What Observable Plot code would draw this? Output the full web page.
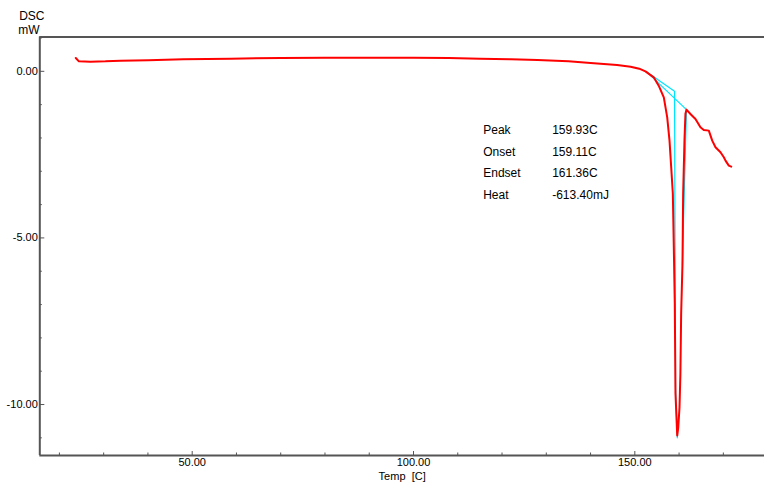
<!DOCTYPE html>
<html>
<head>
<meta charset="utf-8">
<script src="https://cdn.jsdelivr.net/npm/d3@7"></script>
<script src="https://cdn.jsdelivr.net/npm/@observablehq/plot@0.6"></script>
<style>
  html, body { margin: 0; padding: 0; background: #fff; }
  #chart svg { display: block; }
</style>
</head>
<body>
<div id="chart"></div>
<script>
// ---- data ----
const temps = [23.7, 24.4, 27.0, 30.4, 33.8, 40.1, 48.0, 58.7, 70, 80, 90, 100, 108, 115, 122, 128, 135, 140, 143, 146, 149.05, 151, 152.4,
  154.27, 155.4, 156.55, 157.32, 157.84, 158.22, 158.59, 158.81, 159.03, 159.19, 159.58,
  159.81, 160.1, 160.3, 160.47, 160.77, 160.92, 161.22, 161.44, 161.67,
  162.57, 163.70, 164.83, 165.58, 166.72, 167.49, 168.23, 169.36, 170.11, 170.49, 171.24, 171.78];
const dsc = [0.40, 0.30, 0.29, 0.30, 0.32, 0.33, 0.36, 0.38, 0.40, 0.41, 0.41, 0.41, 0.40, 0.38, 0.36, 0.34, 0.30, 0.25, 0.22, 0.19, 0.14, 0.08, 0.00,
  -0.18, -0.43, -0.78, -1.38, -2.08, -2.88, -3.67, -5.28, -6.97, -9.67, -10.93,
  -10.69, -10.09, -9.07, -7.27, -5.77, -3.67, -2.08, -1.27, -1.15,
  -1.28, -1.43, -1.68, -1.76, -1.78, -2.08, -2.28, -2.43, -2.58, -2.68, -2.83, -2.86];

// analysis construction lines (cyan)
const tangentT = [152.8, 158.97, 159.2, 159.6];
const tangentV = [-0.03, -0.60, -9.5, -11.0];
const baselineT = [152.8, 161.67, 160.75];
const baselineV = [-0.03, -1.15, -5.8];

// result table
const resultLabels = ["Peak", "Onset", "Endset", "Heat"];
const resultValues = ["159.93C", "159.11C", "161.36C", "-613.40mJ"];

// axes
const xDomain = [15.57, 179.3];
const yDomain = [-11.53, 1.03];
const xMajor = [50, 100, 150];
const xMinor = [20, 30, 40, 60, 70, 80, 90, 110, 120, 130, 140, 160, 170];
const yMajor = [0, -5, -10];
const yMinor = [1, -1, -2, -3, -4, -6, -7, -8, -9, -11];
const xLabel = "Temp  [C]";
const yLabelTop = "DSC";
const yLabelUnit = "mW";

// ---- layout ----
const W = 764, H = 484;
const mL = 39.3, mT = 36.5, mB = 29, mR = 0;
const frameW = W - mL - mR, frameH = H - mT - mB;
const axisColor = "#555";
const fmt = d => d.toFixed(2);

const curve = temps.map((t, i) => ({t, v: dsc[i]}));
const tangent = tangentT.map((t, i) => ({t, v: tangentV[i]}));
const baseline = baselineT.map((t, i) => ({t, v: baselineV[i]}));

const chart = Plot.plot({
  width: W, height: H,
  marginLeft: mL, marginTop: mT, marginBottom: mB, marginRight: mR,
  style: {fontFamily: "'Liberation Sans', Arial, sans-serif", fontSize: "11px", color: "#000", background: "#fff"},
  x: {domain: xDomain},
  y: {domain: yDomain},
  marks: [
    // frame lines
    Plot.ruleX([xDomain[0]], {stroke: axisColor, strokeWidth: 2}),
    Plot.ruleY([yDomain[0]], {stroke: axisColor, strokeWidth: 2}),
    Plot.ruleY([yDomain[1]], {stroke: axisColor, strokeWidth: 2}),
    // inward ticks
    Plot.tickY(yMajor, {y: d => d, insetRight: frameW - 5, stroke: axisColor}),
    Plot.tickY(yMinor, {y: d => d, insetRight: frameW - 2.5, stroke: axisColor}),
    Plot.tickX(xMajor, {x: d => d, insetTop: frameH - 4, stroke: axisColor}),
    Plot.tickX(xMinor, {x: d => d, insetTop: frameH - 2.5, stroke: axisColor}),
    // tick labels
    Plot.axisX({ticks: xMajor, tickSize: 0, tickPadding: 3, tickFormat: fmt, label: null, fontSize: 11, fill: "#000"}),
    Plot.axisY({ticks: yMajor, tickSize: 0, tickPadding: 2, tickFormat: fmt, label: null, fontSize: 11, fill: "#000"}),
    // axis titles
    Plot.text([xLabel], {frameAnchor: "bottom", dy: 21, text: d => d, fontSize: 11, lineAnchor: "middle", fill: "#000"}),
    Plot.text([yLabelTop], {frameAnchor: "top-left", dx: -8, dy: -20.5, text: d => d, fontSize: 12, textAnchor: "middle", lineAnchor: "middle", fill: "#000"}),
    Plot.text([yLabelUnit], {frameAnchor: "top-left", dx: -11, dy: -7.2, text: d => d, fontSize: 12, textAnchor: "middle", lineAnchor: "middle", fill: "#000"}),
    // cyan analysis lines
    Plot.line(tangent, {x: "t", y: "v", stroke: "#00e5ff", strokeWidth: 1.2}),
    Plot.line(baseline, {x: "t", y: "v", stroke: "#00e5ff", strokeWidth: 1.2}),
    // DSC curve
    Plot.line(curve, {x: "t", y: "v", stroke: "#ff0000", strokeWidth: 2}),
    // result table
    Plot.text([resultLabels.join("\n")], {frameAnchor: "top-left", dx: 443.4, dy: 82, text: d => d, fontSize: 12, lineHeight: 1.79, textAnchor: "start", lineAnchor: "top", fill: "#000"}),
    Plot.text([resultValues.join("\n")], {frameAnchor: "top-left", dx: 512.4, dy: 82, text: d => d, fontSize: 12, lineHeight: 1.79, textAnchor: "start", lineAnchor: "top", fill: "#000"})
  ]
});
document.getElementById("chart").appendChild(chart);
</script>
</body>
</html>
